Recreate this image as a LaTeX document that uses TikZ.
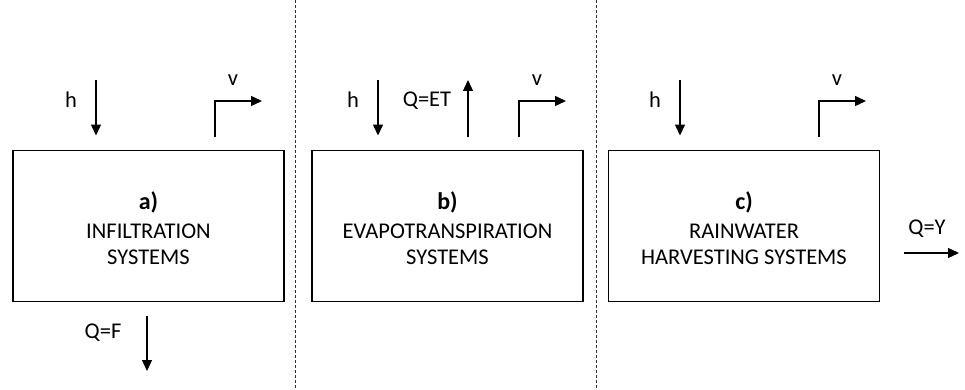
\documentclass[tikz,border=0pt]{standalone}
\usepackage{fontspec}
\setmainfont{Carlito}
\usetikzlibrary{arrows.meta}

\tikzset{
  flow/.style={line width=1.3pt, -{Triangle[length=11pt,width=10pt]}},
  systembox/.style={draw, line width=1.9pt, minimum width=271pt, minimum height=151pt,
    align=center, inner sep=0pt},
}

\begin{document}
\begin{tikzpicture}[x=1pt, y=-1pt, every node/.style={font=\fontsize{22.5}{26}\selectfont}]
  \useasboundingbox (0,0) rectangle (965,390);
  % panel separators
  \coordinate (sep-1) at (295,0);
  \coordinate (sep-2) at (596,0);
  \draw[dash pattern=on 3pt off 2pt, line width=0.9pt, black!80]
    (sep-1) -- ++(0,390) (sep-2) -- ++(0,390);
  \foreach \index/\cx/\hx/\vx/\title in {a/148.5/96/215/{INFILTRATION\\SYSTEMS},
      b/447.5/378/519/{EVAPOTRANSPIRATION\\SYSTEMS},
      c/744/680/819/{RAINWATER\\HARVESTING SYSTEMS}} {
    \node[systembox] (box-\index) at (\cx,226) {};
    \node[align=center] (txt-\index) at ([yshift=-2pt]box-\index.center)
      {\textbf{\fontsize{24}{26}\selectfont\index)}\\[3pt]\title};
    % rain h
    \coordinate (h-\index) at (\hx,80);
    \draw[flow, shorten >=14pt] (h-\index) -- (h-\index |- box-\index.north);
    \node (hl-\index) at (\hx-25,100) {h};
    % runoff v
    \coordinate (v-\index) at (\vx,101);
    \draw[flow, shorten <=13pt] (box-\index.north -| v-\index) -- (v-\index) -- ++(47,0);
    \node (vl-\index) at (\vx+18,80) {v};
  }
  % infiltration
  \coordinate (f-out) at (147,371);
  \draw[flow, shorten <=14pt] (box-a.south -| f-out) -- (f-out);
  \node (fl) at (103,333) {Q=F};
  % evapotranspiration
  \coordinate (et-out) at (468,80);
  \draw[flow, shorten <=13pt] (box-b.north -| et-out) -- (et-out);
  \node (etl) at (427,101) {Q=ET};
  % harvested yield
  \coordinate (y-out) at (959,253);
  \draw[flow, shorten <=24pt] (box-c.east |- y-out) -- (y-out);
  \node (yl) at (927,229) {Q=Y};
\end{tikzpicture}
\end{document}
